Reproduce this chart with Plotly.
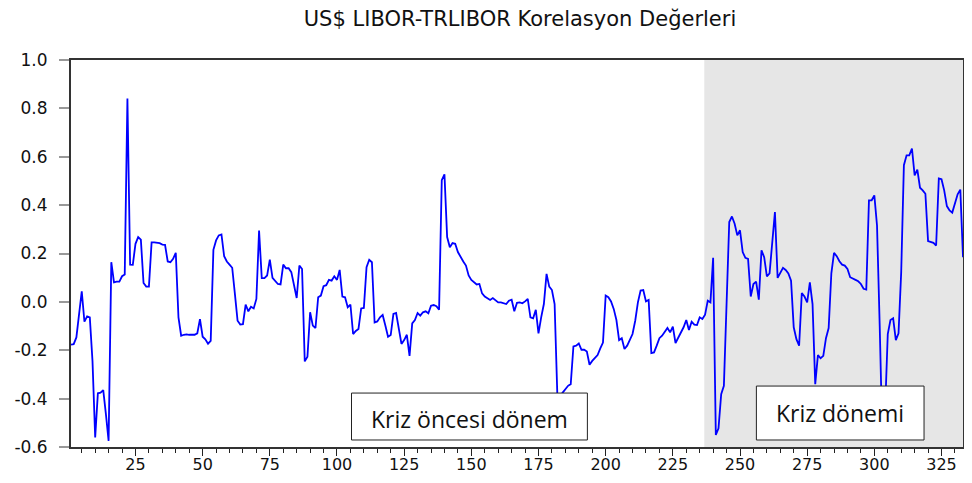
import plotly.graph_objects as go

# Observation index (1..333)
obs = list(range(1, 334))

# Correlation values
corr = [
    -0.177, -0.175, -0.147, -0.050, 0.044, -0.082, -0.060, -0.064, -0.244, -0.561,
    -0.378, -0.375, -0.365, -0.465, -0.575, 0.164, 0.081, 0.084, 0.084, 0.106,
    0.113, 0.841, 0.154, 0.153, 0.240, 0.268, 0.257, 0.078, 0.063, 0.063,
    0.246, 0.246, 0.244, 0.243, 0.237, 0.236, 0.167, 0.164, 0.178, 0.203,
    -0.064, -0.140, -0.136, -0.134, -0.136, -0.137, -0.136, -0.130, -0.071, -0.144,
    -0.155, -0.173, -0.161, 0.215, 0.254, 0.275, 0.279, 0.189, 0.167, 0.154,
    0.141, 0.033, -0.078, -0.094, -0.092, -0.011, -0.039, -0.020, -0.027, 0.012,
    0.295, 0.098, 0.098, 0.109, 0.175, 0.099, 0.088, 0.074, 0.072, 0.154,
    0.139, 0.139, 0.123, 0.067, 0.016, 0.150, 0.136, -0.246, -0.227, -0.043,
    -0.098, -0.108, 0.019, 0.026, 0.065, 0.069, 0.091, 0.088, 0.106, 0.091,
    0.132, 0.022, 0.019, -0.022, -0.011, -0.133, -0.120, -0.112, -0.027, -0.025,
    0.143, 0.174, 0.164, -0.085, -0.081, -0.064, -0.054, -0.098, -0.144, -0.137,
    -0.050, -0.046, -0.105, -0.174, -0.158, -0.136, -0.223, -0.089, -0.075, -0.046,
    -0.057, -0.043, -0.039, -0.047, -0.016, -0.013, -0.018, -0.032, 0.503, 0.527,
    0.268, 0.226, 0.243, 0.240, 0.206, 0.185, 0.167, 0.150, 0.109, 0.091,
    0.081, 0.072, 0.074, 0.035, 0.022, 0.016, 0.008, 0.016, 0.005, -0.002,
    -0.002, -0.004, -0.009, 0.005, 0.009, -0.039, -0.004, -0.002, -0.006, 0.002,
    0.012, -0.064, -0.068, -0.033, -0.130, -0.064, -0.009, 0.116, 0.063, 0.049,
    -0.009, -0.380, -0.390, -0.375, -0.361, -0.347, -0.340, -0.184, -0.181, -0.172,
    -0.198, -0.198, -0.205, -0.260, -0.244, -0.233, -0.220, -0.192, -0.168, 0.026,
    0.019, 0.002, -0.029, -0.075, -0.158, -0.150, -0.195, -0.181, -0.158, -0.133,
    -0.078, -0.002, 0.047, 0.049, 0.002, 0.008, -0.212, -0.209, -0.181, -0.150,
    -0.140, -0.126, -0.108, -0.126, -0.102, -0.170, -0.147, -0.130, -0.105, -0.075,
    -0.116, -0.082, -0.094, -0.096, -0.064, -0.071, -0.053, 0.005, -0.002, 0.182,
    -0.550, -0.523, -0.382, -0.347, -0.022, 0.330, 0.353, 0.323, 0.275, 0.296,
    0.206, 0.182, 0.178, 0.022, 0.074, 0.084, 0.009, 0.213, 0.185, 0.105,
    0.118, 0.240, 0.371, 0.099, 0.123, 0.141, 0.132, 0.118, 0.088, -0.105,
    -0.154, -0.181, 0.036, 0.022, -0.002, 0.081, -0.009, -0.340, -0.220, -0.233,
    -0.223, -0.150, -0.108, 0.118, 0.203, 0.189, 0.168, 0.154, 0.150, 0.136,
    0.102, 0.098, 0.091, 0.085, 0.074, 0.054, 0.051, 0.420, 0.420, 0.440,
    0.316, -0.100, -0.570, -0.450, -0.133, -0.075, -0.068, -0.158, -0.130, 0.123,
    0.565, 0.606, 0.606, 0.634, 0.523, 0.547, 0.472, 0.461, 0.447, 0.251,
    0.247, 0.244, 0.233, 0.510, 0.507, 0.461, 0.396, 0.378, 0.369, 0.406,
    0.445, 0.464, 0.185,
]

y_ticks = [-0.6, -0.4, -0.2, 0.0, 0.2, 0.4, 0.6, 0.8, 1.0]
y_tick_labels = ["-0.6", "-0.4", "-0.2", "0.0", "0.2", "0.4", "0.6", "0.8", "1.0"]
x_ticks = [25, 50, 75, 100, 125, 150, 175, 200, 225, 250, 275, 300, 325]

crisis_start = 236.7
title_text = "US$ LIBOR-TRLIBOR Korelasyon Değerleri"
label_pre = "Kriz öncesi dönem"
label_crisis = "Kriz dönemi"

# The page body adds an 8px margin on each side; size the figure to the visible area.
PAGE_OFFSET = 8
FIG_W = 972 - 2 * PAGE_OFFSET
FIG_H = 483 - PAGE_OFFSET

fig = go.Figure()

fig.add_trace(go.Scatter(
    x=obs, y=corr, mode="lines",
    line=dict(color="#0000FF", width=1.8),
    hoverinfo="x+y", showlegend=False,
))

fig.add_shape(type="rect", xref="x", yref="paper",
              x0=crisis_start, x1=obs[-1], y0=0, y1=1,
              fillcolor="#E6E6E6", line=dict(width=0), layer="below")

# Text boxes
fig.add_shape(type="rect", xref="x", yref="y",
              x0=105.4, x1=193.2, y0=-0.571, y1=-0.377,
              fillcolor="white", line=dict(color="#222222", width=1), layer="above")
fig.add_shape(type="rect", xref="x", yref="y",
              x0=256.1, x1=318.5, y0=-0.571, y1=-0.348,
              fillcolor="white", line=dict(color="#222222", width=1), layer="above")

fig.add_annotation(x=149.3, y=-0.483, xref="x", yref="y", text=label_pre,
                   showarrow=False, font=dict(family="Open Sans", size=23, color="#111111"))
fig.add_annotation(x=287.3, y=-0.458, xref="x", yref="y", text=label_crisis,
                   showarrow=False, font=dict(family="Open Sans", size=23, color="#111111"))

y_tick_font = dict(family="DejaVu Sans", size=17, color="#111111")
x_tick_font = dict(family="DejaVu Sans", size=16, color="#111111")

fig.update_layout(
    width=FIG_W, height=FIG_H,
    margin=dict(l=71 - PAGE_OFFSET, r=1, t=60 - PAGE_OFFSET, b=36),
    paper_bgcolor="white", plot_bgcolor="white",
    title=dict(text=title_text, x=(520 - PAGE_OFFSET) / FIG_W, xanchor="center",
               y=1 - (19 - PAGE_OFFSET) / FIG_H, yanchor="middle", yref="container",
               font=dict(family="DejaVu Sans", size=21, color="#111111")),
    xaxis=dict(range=[obs[0], obs[-1]], tickvals=x_ticks, ticks="outside",
               ticklen=7, tickwidth=1, tickcolor="#222222",
               minor=dict(dtick=5, tick0=0, ticks="outside", ticklen=4,
                          tickcolor="#222222", tickwidth=1, showgrid=False),
               showline=True, linecolor="#333333", linewidth=2, mirror=True,
               showgrid=False, zeroline=False, tickfont=x_tick_font,
               automargin=False, ticklabelstandoff=-5),
    yaxis=dict(range=[-0.6, 1.0], tickvals=y_ticks, ticktext=y_tick_labels,
               ticks="outside", ticklen=10, tickcolor="#999999", tickwidth=1.5,
               showline=True, linecolor="#333333", linewidth=2, mirror=True,
               showgrid=False, zeroline=False, tickfont=y_tick_font,
               automargin=False, ticklabelstandoff=8),
)

fig.write_html("out.html")
